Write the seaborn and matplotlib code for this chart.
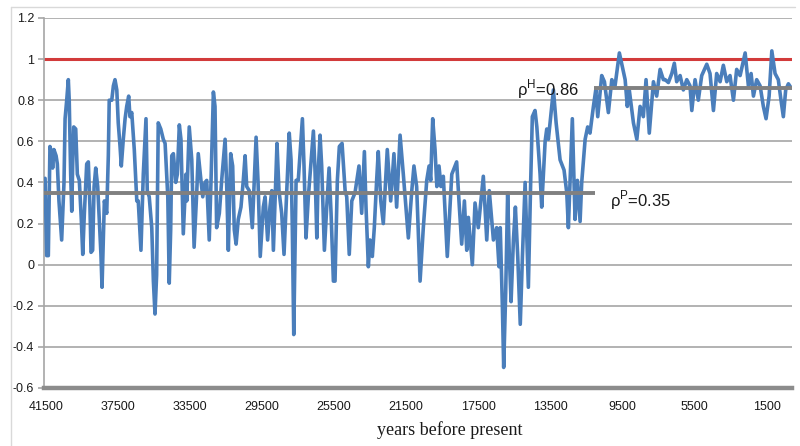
import numpy as np
import pandas as pd
import matplotlib
matplotlib.use("Agg")
import matplotlib.pyplot as plt
import seaborn as sns
from matplotlib.lines import Line2D

# ---------------- data ----------------
years_a = [41540, 41450, 41360, 41270, 41170, 41120, 41050, 40930, 40860, 40770,
           40620, 40490, 40430, 40340, 40250, 40200, 40120, 40060, 40010, 39950,
           39840, 39750, 39640, 39530, 39450, 39360, 39230, 39140, 39050, 38990,
           38900, 38820, 38730, 38620, 38530, 38440, 38380, 38310, 38250, 38120,
           38030, 37980, 37840, 37750, 37660, 37560, 37480, 37380, 37310, 37200,
           37100, 37010, 36900, 36830, 36730, 36590, 36450, 36370, 36220, 36090,
           35940, 35870, 35760, 35620, 35530, 35440, 35350, 35260, 35120, 34980]
rho_a = [0.42, 0.044, 0.044, 0.575, 0.54, 0.47, 0.56, 0.53, 0.49, 0.31,
         0.12, 0.40, 0.71, 0.80, 0.90, 0.80, 0.44, 0.26, 0.48, 0.67,
         0.66, 0.44, 0.41, 0.22, 0.05, 0.25, 0.49, 0.50, 0.28, 0.06,
         0.07, 0.38, 0.47, 0.38, 0.22, 0.05, -0.11, 0.12, 0.31, 0.25,
         0.53, 0.80, 0.80, 0.87, 0.90, 0.85, 0.69, 0.575, 0.48, 0.61,
         0.71, 0.77, 0.82, 0.72, 0.74, 0.56, 0.31, 0.31, 0.07, 0.44,
         0.71, 0.36, 0.33, 0.18, -0.08, -0.24, -0.05, 0.69, 0.66, 0.61]

years_b = [34880, 34730, 34650, 34570, 34510, 34420, 34290, 34200, 34090, 34000,
           33870, 33720, 33680, 33540, 33400, 33270, 33120, 33040, 32890, 32790,
           32660, 32570, 32430, 32330, 32200, 32110, 32020, 31870, 31740, 31550,
           31460, 31370, 31240, 31130, 31040, 30940, 30820, 30670, 30540, 30440,
           30350, 30210, 30040, 29930, 29830, 29720, 29600, 29430, 29330, 29190,
           29060, 28960, 28870, 28780, 28670, 28560, 28410, 28280, 28130, 27990,
           27890, 27820, 27740]
rho_b = [0.59, 0.33, -0.09, 0.17, 0.53, 0.54, 0.40, 0.44, 0.68, 0.61,
         0.15, 0.44, 0.31, 0.67, 0.51, 0.085, 0.36, 0.54, 0.41, 0.33,
         0.40, 0.41, 0.12, 0.41, 0.84, 0.77, 0.18, 0.25, 0.41, 0.61,
         0.38, 0.07, 0.54, 0.48, 0.17, 0.10, 0.22, 0.28, 0.41, 0.53,
         0.38, 0.36, 0.18, 0.41, 0.62, 0.40, 0.04, 0.28, 0.33, 0.12,
         0.28, 0.36, 0.07, 0.30, 0.59, 0.36, 0.25, 0.05, 0.36, 0.64,
         0.51, 0.18, -0.34]

years_c = [27610, 27490, 27390, 27260, 27170, 27060, 26930, 26800, 26650, 26560,
           26460, 26380, 26280, 26190, 26040, 25910, 25780, 25670, 25540, 25450,
           25320, 25210, 25060, 24890, 24800, 24660, 24520, 24340, 24120, 23970,
           23820, 23730, 23600, 23510, 23380, 23270, 23140, 23050, 22910, 22770,
           22550, 22360, 22180, 22030, 21840, 21660, 21380, 21190, 21070, 20920,
           20730]
rho_c = [0.41, 0.41, 0.54, 0.71, 0.48, 0.13, 0.33, 0.48, 0.65, 0.46,
         0.13, 0.46, 0.63, 0.48, 0.07, 0.28, 0.47, 0.25, -0.08, -0.08,
         0.41, 0.575, 0.59, 0.36, 0.33, 0.05, 0.31, 0.35, 0.48, 0.25,
         0.55, 0.28, -0.01, 0.12, 0.04, 0.18, 0.41, 0.55, 0.31, 0.20,
         0.56, 0.31, 0.54, 0.28, 0.63, 0.44, 0.13, 0.36, 0.48, 0.38,
         -0.08]

years_d = [20550, 20360, 20230, 20140, 20030, 19900, 19800, 19680, 19570, 19440,
           19220, 19070, 18970, 18700, 18550, 18420, 18270, 18140, 18050, 17830,
           17680, 17500, 17220, 17030, 16890, 16660, 16480, 16350, 16280, 16160,
           16090, 15980, 15870, 15780, 15680, 15550, 15440, 15310, 15170, 15050,
           14900, 14720, 14590, 14500, 14350, 14250, 14070, 13980]
rho_d = [0.18, 0.41, 0.48, 0.41, 0.71, 0.56, 0.38, 0.48, 0.38, 0.43,
         0.04, 0.28, 0.44, 0.50, 0.28, 0.10, 0.31, 0.07, 0.23, 0.0,
         0.30, 0.18, 0.43, 0.12, 0.36, 0.12, 0.18, -0.01, 0.18, -0.21,
         -0.50, -0.14, 0.35, 0.05, -0.18, 0.12, 0.28, 0.04, -0.29, 0.04,
         0.40, -0.11, 0.41, 0.72, 0.75, 0.67, 0.44, 0.28]

years_e = [13790, 13700, 13610, 13480, 13330, 13180, 12960, 12740, 12590, 12500,
           12280, 12130, 12000, 11850, 11760, 11570, 11430, 11300, 11110, 10980,
           10870, 10650, 10500, 10280, 10090, 9910, 9670, 9350, 9230, 9120,
           8890, 8700, 8520, 8340, 8190, 8010, 7780, 7600, 7410, 7230]
rho_e = [0.60, 0.66, 0.61, 0.72, 0.85, 0.69, 0.51, 0.46, 0.35, 0.18,
         0.71, 0.22, 0.41, 0.21, 0.40, 0.61, 0.67, 0.64, 0.77, 0.85,
         0.72, 0.92, 0.89, 0.74, 0.90, 0.87, 1.03, 0.90, 0.77, 0.85,
         0.69, 0.61, 0.77, 0.72, 0.90, 0.64, 0.89, 0.82, 0.95, 0.90]

years_f = [7130, 6950, 6760, 6620, 6490, 6300, 6120, 5930, 5750, 5650,
           5470, 5290, 5100, 4820, 4640, 4450, 4270, 4080, 3900, 3710,
           3530, 3340, 3160, 2970, 2690, 2510, 2360, 2230, 2050, 1860,
           1680, 1530, 1360, 1210, 1030, 850, 700, 570, 440, 290, 140]
rho_f = [0.90, 0.886, 0.93, 0.98, 0.89, 0.92, 0.85, 0.90, 0.87, 0.75,
         0.90, 0.80, 0.92, 0.975, 0.93, 0.75, 0.93, 0.89, 0.97, 0.89,
         0.92, 0.80, 0.95, 0.92, 1.03, 0.87, 0.93, 0.82, 0.90, 0.87,
         0.77, 0.71, 0.82, 1.04, 0.93, 0.90, 0.80, 0.72, 0.85, 0.88, 0.86]

# mean levels (Pleistocene / Holocene) and reference level
rho_P = 0.35
rho_P_span = [41600, 11000]
rho_H = 0.86
rho_H_span = [11100, 90]
ref_level = 1.0

xtick_years = [41500, 37500, 33500, 29500, 25500, 21500, 17500, 13500, 9500, 5500, 1500]
ytick_vals = [-0.6, -0.4, -0.2, 0.0, 0.2, 0.4, 0.6, 0.8, 1.0, 1.2]
ytick_labels = ["-0.6", "-0.4", "-0.2", "0", "0.2", "0.4", "0.6", "0.8", "1", "1.2"]

# ---------------- build frame ----------------
years = years_a + years_b + years_c + years_d + years_e + years_f
rho = rho_a + rho_b + rho_c + rho_d + rho_e + rho_f
df = pd.DataFrame({"year": years, "rho": rho})

sns.set_style("white")
plt.rcParams['font.family'] = ['Liberation Sans', 'DejaVu Sans']

W, H = 800, 446
fig = plt.figure(figsize=(W / 100, H / 100), dpi=100)
ax = fig.add_axes([44 / W, 1 - 388 / H, (792 - 44) / W, (388 - 18) / H])

# gridlines
ax.set_yticks(ytick_vals)
ax.set_yticklabels(ytick_labels)
ax.yaxis.grid(True, color='#a6a6a6', lw=1.2)
ax.xaxis.grid(False)
ax.set_axisbelow(True)

# reference line
ax.axhline(ref_level, color='#D23B3B', lw=2.2, zorder=2)

# series
sns.lineplot(data=df, x="year", y="rho", ax=ax, color='#4A7EBB', lw=2.6,
             estimator=None, sort=False, zorder=3,
             solid_joinstyle='round', solid_capstyle='round')

# mean lines
ax.plot(rho_P_span, [rho_P, rho_P], color='#808080', lw=2.8, zorder=4,
        solid_capstyle='butt')
ax.plot(rho_H_span, [rho_H, rho_H], color='#808080', lw=2.8, zorder=4,
        solid_capstyle='butt')

ax.text(10190, 0.315, r'ρ$^{\mathregular{P}}$=0.35', ha='left', va='center',
        fontsize=12, color='#1a1a1a')
ax.text(15350, 0.855, r'ρ$^{\mathregular{H}}$=0.86', ha='left', va='center',
        fontsize=12, color='#1a1a1a', zorder=5)

ax.set_xlim(41600, 90)
ax.set_ylim(-0.6, 1.2)
ax.set_xticks(xtick_years)
ax.set_xticklabels([str(y) for y in xtick_years])
ax.set_xlabel("")
ax.set_ylabel("")

for s in ['top', 'right']:
    ax.spines[s].set_visible(False)
ax.spines['left'].set_color('#a6a6a6')
ax.spines['left'].set_linewidth(1.2)
ax.spines['bottom'].set_color('#8c8c8c')
ax.spines['bottom'].set_linewidth(3.2)

ax.tick_params(axis='y', length=4, color='#a6a6a6', width=1.2, pad=3,
               labelsize=9, labelcolor='#1a1a1a', left=True)
ax.tick_params(axis='x', length=0, pad=9, labelsize=9, labelcolor='#1a1a1a')

fig.text(450 / W, 1 - 430 / H, 'years before present', family='Liberation Serif',
         fontsize=13, ha='center', va='center', color='#1a1a1a')

# outer chart frame
fig.add_artist(Line2D([11 / W, 795 / W], [1 - 7 / H, 1 - 7 / H],
                      transform=fig.transFigure, color='#d9d9d9', lw=1))
fig.add_artist(Line2D([11 / W, 11 / W], [0, 1 - 7 / H],
                      transform=fig.transFigure, color='#d9d9d9', lw=1))

fig.savefig("out.png", dpi=100)
